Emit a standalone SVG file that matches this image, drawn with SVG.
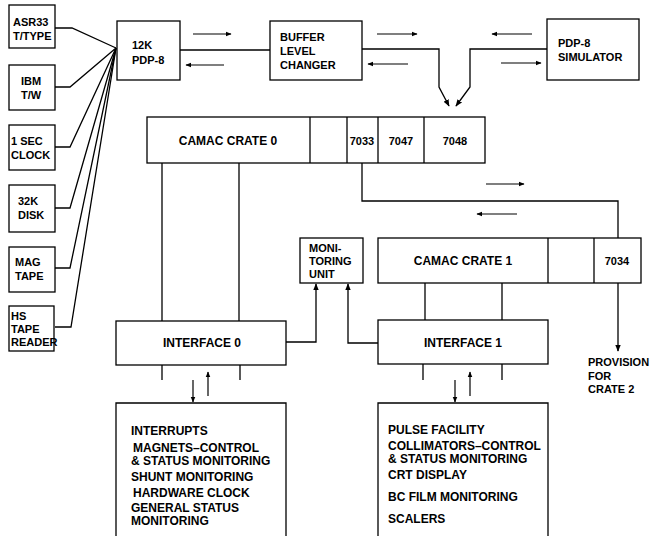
<svg xmlns="http://www.w3.org/2000/svg" width="653" height="536" viewBox="0 0 653 536">
<defs>
<marker id="ah" viewBox="0 0 10 10" refX="9" refY="5" markerWidth="7" markerHeight="7" markerUnits="userSpaceOnUse" orient="auto">
<path d="M0,1 L10,5 L0,9 Z" fill="#000"/>
</marker>
<marker id="ahs" viewBox="0 0 10 10" refX="9" refY="5" markerWidth="6" markerHeight="6" markerUnits="userSpaceOnUse" orient="auto">
<path d="M0,1 L10,5 L0,9 Z" fill="#000"/>
</marker>
</defs>
<style>
rect, .box { fill: #fff; stroke: #000; stroke-width: 1.3; }
.open { fill: none; stroke: #000; stroke-width: 1.3; }
text { font-family: "Liberation Sans", Arial, sans-serif; font-weight: bold; font-size: 12px; fill: #000; }
.sm { font-size: 11px; }
.c { text-anchor: middle; }
.ln { fill: none; stroke: #000; stroke-width: 1.3; }
.ar { fill: none; stroke: #000; stroke-width: 1.3; marker-end: url(#ah); }
.ars { fill: none; stroke: #000; stroke-width: 1.2; marker-end: url(#ahs); }
</style>
<rect x="0" y="0" width="653" height="536" style="fill:#fff;stroke:none"/>

<g id="connectors">
<!-- fan to PDP-8 -->
<polyline class="ln" points="55,28 72,28 116,48"/>
<polyline class="ln" points="55,87 70,87 116,48"/>
<polyline class="ln" points="55,147 70,147 116,48"/>
<polyline class="ln" points="55,208 70,208 116,48"/>
<polyline class="ln" points="55,268 70,268 116,48"/>
<polyline class="ln" points="55,327 71,327 116,48"/>
<!-- PDP-8 to buffer -->
<line class="ln" x1="180" y1="50" x2="270" y2="50"/>
<line class="ars" x1="193" y1="34" x2="231" y2="34"/>
<line class="ars" x1="224" y1="65" x2="186" y2="65"/>
<!-- buffer to crate 0 -->
<polyline class="ar" points="362,49 439,49 439,87 449,106"/>
<line class="ars" x1="377" y1="34" x2="417" y2="34"/>
<line class="ars" x1="408" y1="64" x2="368" y2="64"/>
<!-- simulator to crate 0 -->
<polyline class="ar" points="547,49 470,49 470,87 456,106"/>
<line class="ars" x1="532" y1="34" x2="492" y2="34"/>
<line class="ars" x1="501" y1="63" x2="541" y2="63"/>
<!-- crate 0 to interface 0 -->
<line class="ln" x1="162" y1="163" x2="162" y2="321"/>
<line class="ln" x1="239" y1="163" x2="239" y2="321"/>
<!-- 7033 to 7034 -->
<polyline class="ln" points="362,163 362,201 618,201 618,238"/>
<line class="ars" x1="486" y1="184" x2="524" y2="184"/>
<line class="ars" x1="517" y1="214" x2="477" y2="214"/>
<!-- crate 1 to interface 1 -->
<line class="ln" x1="425" y1="283" x2="425" y2="320"/>
<line class="ln" x1="502" y1="283" x2="502" y2="320"/>
<!-- provision -->
<line class="ar" x1="618" y1="283" x2="618" y2="351"/>
<!-- interfaces to monitoring unit -->
<polyline class="ar" points="286,342 316,342 316,284"/>
<polyline class="ar" points="378,343 348,343 348,284"/>
<!-- interface 0 to bottom -->
<line class="ln" x1="162" y1="365" x2="162" y2="380"/>
<line class="ln" x1="240" y1="365" x2="240" y2="380"/>
<line class="ars" x1="193" y1="380" x2="193" y2="402"/>
<line class="ars" x1="208" y1="396" x2="208" y2="372"/>
<!-- interface 1 to bottom -->
<line class="ln" x1="423" y1="364" x2="423" y2="380"/>
<line class="ln" x1="502" y1="364" x2="502" y2="380"/>
<line class="ars" x1="455" y1="380" x2="455" y2="402"/>
<line class="ars" x1="470" y1="396" x2="470" y2="372"/>
</g>

<g id="asr33">
<rect x="9" y="5" width="46" height="43"/>
<text class="sm" x="13" y="26">ASR33</text>
<text class="sm" x="13" y="40">T/TYPE</text>
</g>
<g id="ibm">
<rect x="9" y="65" width="46" height="45"/>
<text class="sm" x="21" y="85">IBM</text>
<text class="sm" x="21" y="99">T/W</text>
</g>
<g id="clock">
<rect x="9" y="125" width="46" height="45"/>
<text class="sm" x="11" y="145">1 SEC</text>
<text class="sm" x="11" y="159">CLOCK</text>
</g>
<g id="disk">
<rect x="9" y="185" width="46" height="47"/>
<text class="sm" x="18" y="205">32K</text>
<text class="sm" x="18" y="219">DISK</text>
</g>
<g id="magtape">
<rect x="9" y="247" width="46" height="45"/>
<text class="sm" x="15" y="266">MAG</text>
<text class="sm" x="15" y="280">TAPE</text>
</g>
<g id="hsreader">
<rect x="9" y="306" width="45" height="45"/>
<text class="sm" x="11" y="320">HS</text>
<text class="sm" x="11" y="333">TAPE</text>
<text class="sm" x="11" y="346">READER</text>
</g>

<g id="pdp8">
<rect x="117" y="21" width="63" height="59"/>
<text class="sm" x="132" y="49">12K</text>
<text class="sm" x="132" y="64">PDP-8</text>
</g>
<g id="buffer">
<rect x="270" y="21" width="92" height="59"/>
<text class="sm" x="280" y="41">BUFFER</text>
<text class="sm" x="280" y="55">LEVEL</text>
<text class="sm" x="280" y="69">CHANGER</text>
</g>
<g id="simulator">
<rect x="547" y="19" width="92" height="61"/>
<text class="sm" x="558" y="47">PDP-8</text>
<text class="sm" x="558" y="61">SIMULATOR</text>
</g>

<g id="crate0">
<rect x="147" y="117" width="338" height="46"/>
<line class="ln" x1="310" y1="117" x2="310" y2="163"/>
<line class="ln" x1="347" y1="117" x2="347" y2="163"/>
<line class="ln" x1="378" y1="117" x2="378" y2="163"/>
<line class="ln" x1="424" y1="117" x2="424" y2="163"/>
<text x="228" y="145" class="c">CAMAC CRATE 0</text>
<text x="362" y="145" class="c sm">7033</text>
<text x="401" y="145" class="c sm">7047</text>
<text x="455" y="145" class="c sm">7048</text>
</g>

<g id="monitoring">
<rect x="300" y="238" width="63" height="45"/>
<text class="sm" x="309" y="252">MONI-</text>
<text class="sm" x="309" y="265">TORING</text>
<text class="sm" x="309" y="278">UNIT</text>
</g>

<g id="crate1">
<rect x="378" y="238" width="263" height="45"/>
<line class="ln" x1="548" y1="238" x2="548" y2="283"/>
<line class="ln" x1="594" y1="238" x2="594" y2="283"/>
<text x="463" y="265" class="c">CAMAC CRATE 1</text>
<text x="617" y="265" class="c sm">7034</text>
</g>

<g id="interface0">
<rect x="116" y="321" width="170" height="44"/>
<text x="202" y="347" class="c">INTERFACE 0</text>
</g>
<g id="interface1">
<rect x="378" y="320" width="170" height="44"/>
<text x="463" y="347" class="c">INTERFACE 1</text>
</g>

<g id="provision">
<text class="sm" x="588" y="366">PROVISION</text>
<text class="sm" x="588" y="380">FOR</text>
<text class="sm" x="588" y="393">CRATE 2</text>
</g>

<g id="functions0">
<path class="open" d="M116,537 L116,403 L286,403 L286,537"/>
<text x="131" y="435">INTERRUPTS</text>
<text x="133" y="452">MAGNETS–CONTROL</text>
<text x="131" y="465">&amp; STATUS MONITORING</text>
<text x="131" y="481">SHUNT MONITORING</text>
<text x="133" y="497">HARDWARE CLOCK</text>
<text x="131" y="512">GENERAL STATUS</text>
<text x="131" y="525">MONITORING</text>
</g>

<g id="functions1">
<path class="open" d="M378,537 L378,403 L548,403 L548,537"/>
<text x="388" y="434">PULSE FACILITY</text>
<text x="388" y="450">COLLIMATORS–CONTROL</text>
<text x="388" y="463">&amp; STATUS MONITORING</text>
<text x="388" y="479">CRT DISPLAY</text>
<text x="388" y="501">BC FILM MONITORING</text>
<text x="388" y="523">SCALERS</text>
</g>
</svg>
